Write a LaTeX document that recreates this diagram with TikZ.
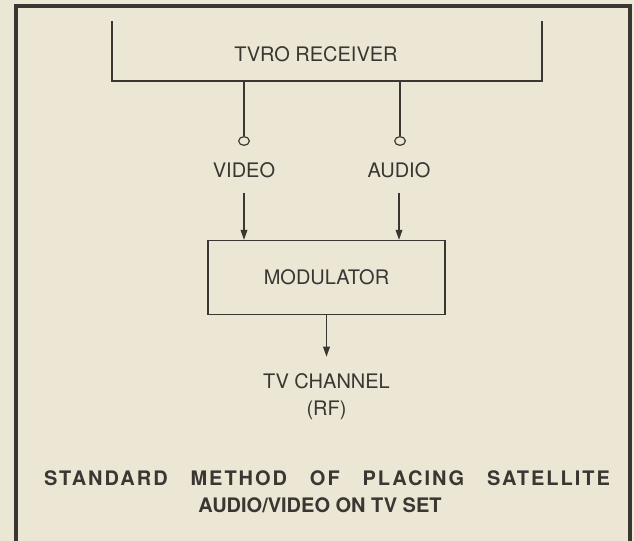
\documentclass[tikz,border=0pt]{standalone}
\usepackage{fontspec}
\setmainfont{TeX Gyre Heros}
\newfontfamily\spacedfont[LetterSpace=10]{TeX Gyre Heros}
\usetikzlibrary{arrows.meta,shapes.geometric,calc}
\definecolor{paper}{RGB}{236,230,213}
\definecolor{ink}{RGB}{58,54,50}
\tikzset{>={Triangle[length=7.5pt,width=5pt]}}
\newcommand*{\lbl}{\fontsize{15}{20.25}\selectfont}

\begin{document}
\begin{tikzpicture}[x=0.75pt,y=-0.75pt,ink,line width=1.1pt,
  every node/.style={text=ink,font=\lbl},
  jack/.style={draw,ellipse,inner sep=0pt,minimum width=8pt,minimum height=6.5pt,line width=0.9pt},
  modbox/.style={draw,rectangle,minimum width=177.75pt,minimum height=55.5pt}]
\fill[paper] (0,0) rectangle (634,541);
\useasboundingbox (0,0) rectangle (634,541);
\draw[line width=2.4pt] (16,545) -- (16,6) -- (630,6) -- (630,545);
% receiver, open at the top
\draw (112,21) -- (112,81) coordinate (rxl) -- (542,81) -- (542,21);
\node (rx) at (316,54) {TVRO RECEIVER};
\node[jack] (vj) at (244,141) {};
\node[jack] (aj) at (400,141) {};
\draw (vj.north) -- (vj.north |- rxl);
\draw (aj.north) -- (aj.north |- rxl);
\node (video) at (244,170) {VIDEO};
\node (audio) at (399,170) {AUDIO};
\node[modbox] (mod) at (326.5,277.6) {MODULATOR};
\draw[->,shorten <=8pt] (video.south) -- (video.south |- mod.north);
\draw[->,shorten <=8pt] (audio.south) -- (audio.south |- mod.north);
\node[align=center] (tv) at (326.5,397) {TV CHANNEL\\(RF)};
\draw[->,shorten >=9pt] (mod.south) -- (tv.north);
% caption
\node (cap1) at (327,478) {\spacedfont\bfseries\makebox[424.5pt][s]{STANDARD METHOD OF PLACING SATELLITE}};
\node (cap2) at (320,505.5) {\bfseries AUDIO/VIDEO ON TV SET};
\end{tikzpicture}
\end{document}
